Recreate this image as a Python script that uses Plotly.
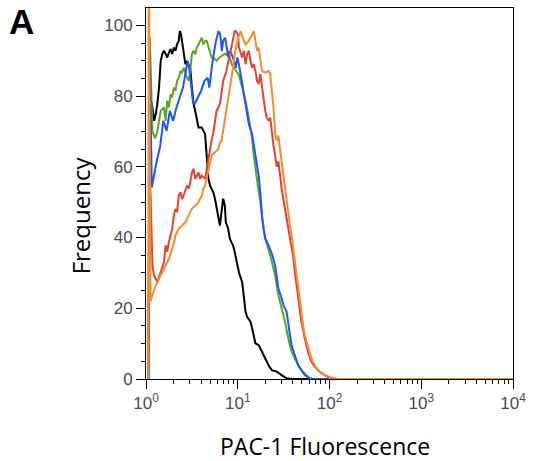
import plotly.graph_objects as go

# ---- data (fluorescence channel, frequency %) ----
black_x = [1.06, 1.10, 1.175, 1.225, 1.278, 1.329, 1.387, 1.446, 1.504, 1.569, 1.637, 1.703, 1.777, 1.852, 1.928, 2.010,
           2.097, 2.182, 2.275, 2.332, 2.408, 2.512, 2.575, 2.686, 2.794, 2.914, 3.040, 3.162, 3.298, 3.440, 3.579, 3.733,
           4.050, 4.225, 4.406, 4.585, 4.782, 4.987, 5.411, 5.644, 5.873, 6.124, 6.387, 6.646, 6.932, 7.229, 7.411, 7.845,
           8.183, 8.514, 8.879, 9.262, 9.636, 10.30, 11.18, 11.66, 12.16, 12.66, 13.76, 14.32, 14.94, 15.58, 16.90, 18.34,
           19.95, 21.65, 23.50, 26.60, 30.10, 34.07, 38.55, 10000]
black_y = [0, 80, 76.8, 73, 75, 77.8, 82.4, 89.9, 91.9, 92.8, 91.9, 90.9, 92.3, 93.3, 91.9, 93.7,
           92.8, 94.7, 95.6, 98.4, 97.5, 93.7, 91.9, 89, 89.9, 89, 87.7, 82.4, 77.8, 75.8, 73, 71.1,
           71.1, 70.2, 69.3, 63.2, 56.7, 54.7, 52.8, 51, 48.2, 45.4, 43.4, 47.2, 51, 49, 44.3, 42.6,
           39.8, 38.7, 37.8, 35.9, 33.5, 30.2, 27.4, 22.8, 19, 17.6, 16.2, 14.4, 12.4, 10.1, 9.6, 7.7,
           5.9, 3.9, 2.5, 2.1, 1.1, 0.2, 0, 0]

green_x = [1.06, 1.10, 1.175, 1.256, 1.329, 1.387, 1.446, 1.569, 1.637, 1.703, 1.777, 1.852, 1.928, 2.010, 2.097, 2.182,
           2.275, 2.373, 2.469, 2.575, 2.686, 2.794, 2.914, 3.040, 3.162, 3.298, 3.440, 3.579, 3.733, 3.894, 4.050, 4.225,
           4.406, 4.585, 4.782, 4.987, 5.188, 5.411, 5.873, 6.387, 7.284, 8.183, 8.598, 9.102, 10.30, 11.18, 12.16, 13.20,
           13.76, 14.32, 14.94, 15.58, 16.21, 16.90, 17.63, 18.34, 19.13, 19.95, 21.65, 22.58, 25.56, 27.73, 30.10, 32.74,
           35.53, 38.55, 43.63, 49.38, 55.88, 60.80, 66.0, 10000]
green_y = [0, 96.7, 70, 68, 70, 73, 75.8, 76.8, 73, 78.7, 76.8, 80.5, 79.6, 82.4, 81.5, 84.3,
           85.2, 87.1, 86.6, 88, 86.2, 85.2, 84.3, 87.1, 91.8, 92.8, 91.8, 93.7, 94.6, 95.6, 96.5, 94.6,
           95.6, 95.6, 94.2, 92.8, 90.9, 90.9, 90, 91, 92, 90.9, 89, 88, 86, 82.4, 78.7, 73.9,
           71, 68, 63.2, 59.5, 55.6, 53, 50, 46, 42.5, 39.7, 37, 35, 29.3, 23.7, 20, 16.2,
           11.5, 7.7, 4.9, 2.5, 1.1, 0.2, 0, 0]

blue_x = [1.06, 1.10, 1.157, 1.204, 1.310, 1.421, 1.543, 1.678, 1.820, 1.975, 2.149, 2.332, 2.530, 2.754, 2.864, 2.987,
          3.116, 3.241, 3.381, 3.669, 3.990, 4.331, 4.699, 4.902, 5.113, 5.318, 5.546, 5.786, 6.170, 6.435, 6.712, 6.932,
          7.284, 7.521, 7.903, 8.183, 8.598, 9.102, 9.493, 9.877, 10.30, 10.74, 11.18, 11.66, 12.16, 12.66, 13.20, 14.32,
          15.58, 16.21, 16.90, 17.63, 18.34, 19.13, 19.95, 21.65, 23.50, 25.56, 26.60, 27.73, 30.10, 31.39, 34.07, 35.53,
          37.06, 38.55, 41.94, 45.50, 49.38, 53.70, 60.80, 66.0, 10000]
blue_y = [0, 92.7, 54.2, 57, 61.7, 65.5, 73, 70.2, 75.8, 73, 76.8, 79.6, 82.4, 88, 89.9, 87.1,
          82.4, 78.7, 77.7, 79.6, 81.5, 84.3, 85.2, 82.4, 87.1, 89.9, 92.8, 95.6, 98.4, 97.5, 92.8, 95.6,
          96.5, 93.7, 90.9, 92.8, 91.8, 89.9, 88, 90.9, 89, 86.2, 83.4, 79.6, 76.8, 73.9, 72.1, 69.3,
          63.8, 61.3, 57.5, 52.6, 46.2, 42.5, 39.7, 37.8, 35.5, 32.1, 29.3, 25.6, 22.8, 20.9, 19, 15.2,
          12.4, 9.6, 6.8, 3.9, 2.5, 1.1, 0.2, 0, 0]

red_x = [1.06, 1.10, 1.175, 1.225, 1.329, 1.446, 1.569, 1.637, 1.703, 1.777, 1.928, 2.010, 2.097, 2.182, 2.275, 2.373,
         2.469, 2.575, 2.686, 2.794, 2.914, 3.040, 3.162, 3.298, 3.440, 3.579, 3.733, 3.894, 4.050, 4.406, 4.585, 4.987,
         5.188, 5.411, 5.644, 5.873, 6.387, 6.646, 6.932, 7.521, 7.845, 8.183, 8.514, 8.879, 9.262, 9.493, 10.05, 10.30,
         11.18, 11.66, 12.16, 12.66, 13.20, 13.76, 14.32, 14.94, 15.58, 16.21, 16.90, 17.63, 18.34, 19.13, 19.95, 20.76,
         21.65, 22.58, 23.50, 24.51, 25.56, 26.60, 27.73, 28.93, 30.10, 31.39, 32.74, 34.07, 35.53, 37.06, 38.55, 40.21,
         41.94, 43.63, 45.50, 47.46, 49.38, 53.70, 58.29, 63.25, 68.83, 77.88, 88.15, 99.75, 122.5, 10000]
red_y = [0, 60, 32.1, 29.3, 27.4, 30.2, 33, 37.8, 36, 38.7, 42.5, 46.2, 48.1, 47.2, 51.9, 52.8,
         50.9, 51.9, 53.8, 54.7, 53.8, 55.6, 58.4, 59.4, 56.6, 57.5, 58.4, 56.6, 57.5, 56.6, 59.4, 65,
         67.5, 69.5, 73, 75.8, 77.7, 80.5, 84.3, 87.1, 89.9, 91.8, 93.7, 96.5, 98.4, 98.4, 97.5, 93.7,
         90.9, 92.8, 89, 91.8, 92.8, 89.9, 88, 89, 87.1, 84.3, 83.4, 86.2, 82.4, 78.7, 75.8, 73.9,
         73, 73.9, 69.5, 66, 63.2, 60, 61.5, 56.6, 53.8, 50.9, 48.1, 44.3, 42.5, 39.7, 36.8, 34.5,
         30.2, 26.5, 22.8, 19, 16.2, 11.5, 7.7, 4.9, 3.5, 2.1, 1.1, 0.2, 0, 0]

orange_x = [1.06, 1.07, 1.12, 1.175, 1.225, 1.278, 1.329, 1.446, 1.569, 1.703, 1.777, 1.928, 2.010, 2.097, 2.182, 2.275,
            2.469, 2.686, 2.914, 3.162, 3.440, 3.733, 4.050, 4.225, 4.406, 4.585, 4.782, 4.987, 5.188, 5.644, 6.124, 6.387,
            6.646, 6.932, 7.229, 7.521, 7.845, 8.183, 8.514, 8.879, 9.262, 9.636, 10.05, 10.48, 10.74, 11.66, 12.16, 13.20,
            14.32, 14.94, 15.58, 16.21, 16.90, 17.63, 18.34, 19.95, 21.65, 22.58, 23.50, 24.51, 25.12, 25.56, 26.60, 27.73,
            28.93, 30.10, 31.39, 32.74, 34.07, 35.53, 37.06, 38.55, 40.21, 41.94, 43.63, 45.50, 47.46, 49.38, 51.50, 53.70,
            58.29, 63.25, 68.83, 74.67, 81.02, 91.71, 103.8, 122.5, 10000]
orange_y = [0, 130, 22, 23.7, 25.6, 26.5, 27.4, 29.3, 31.2, 32.6, 34, 36.8, 38.7, 40.6, 41.5, 42.5,
            43.4, 44.3, 46.2, 48.1, 49, 50, 51.9, 53.8, 54.7, 56.6, 59.4, 61.3, 63.2, 64.1, 65, 66.9,
            67.4, 70.2, 73, 75.8, 79.6, 82.4, 85.2, 88, 91.8, 94.6, 96.5, 97.5, 98.4, 95.6, 94.6, 95.6,
            97.5, 98.4, 95.6, 92.8, 93.7, 90.9, 87.1, 86.6, 87.1, 86.2, 82.4, 76.8, 73, 69.3, 67.4, 68.8,
            65, 61.3, 58.4, 54.7, 50.9, 47.2, 43.4, 40.6, 36.8, 34, 29.3, 25.6, 21.8, 18, 15.2, 12.4,
            8.7, 5.8, 3.9, 2.5, 1.6, 1.1, 0.4, 0, 0]

x_tickvals = [1, 10, 100, 1000, 10000]
x_ticktext = ["10<sup>0</sup>", "10<sup>1</sup>", "10<sup>2</sup>", "10<sup>3</sup>", "10<sup>4</sup>"]
y_tickvals = [0, 20, 40, 60, 80, 100]

series = [
    (black_x, black_y, "#000000"),
    (green_x, green_y, "#58a81c"),
    (blue_x, blue_y, "#1f55ff"),
    (red_x, red_y, "#e8412d"),
    (orange_x, orange_y, "#f48c30"),
]

fig = go.Figure()
for xs, ys, col in series:
    assert len(xs) == len(ys), (len(xs), len(ys), col)
    fig.add_trace(go.Scatter(x=xs, y=ys, mode="lines",
                             line=dict(color=col, width=2), showlegend=False,
                             hoverinfo="skip"))

minor_x = [m * 10 ** k for k in range(4) for m in range(2, 10)]
tick_font = dict(family="Liberation Sans, Arial, sans-serif", size=17, color="#4a4a4a")

fig.update_layout(
    width=533, height=461,
    margin=dict(l=146, r=15, t=7, b=82),
    paper_bgcolor="white", plot_bgcolor="white",
    showlegend=False,
    xaxis=dict(type="log", range=[0, 4], showline=True, linecolor="black", linewidth=1,
               mirror=True, ticks="outside", ticklen=9, tickcolor="black", tickwidth=1,
               tickvals=x_tickvals, ticktext=x_ticktext, tickfont=tick_font,
               minor=dict(tickvals=minor_x, ticks="outside", ticklen=4, tickcolor="black", tickwidth=1),
               showgrid=False, zeroline=False, layer="below traces"),
    yaxis=dict(range=[0, 104.9], showline=True, linecolor="black", linewidth=1,
               mirror=True, ticks="outside", ticklen=9, tickcolor="black", tickwidth=1,
               tickvals=y_tickvals, tickfont=tick_font,
               minor=dict(dtick=5, tick0=0, ticks="outside", ticklen=4, tickcolor="black", tickwidth=1),
               showgrid=False, zeroline=False, layer="below traces"),
    annotations=[
        dict(text="Frequency", x=-0.1774, y=0.4409, xref="paper", yref="paper",
             textangle=-90, showarrow=False, xanchor="center", yanchor="middle",
             font=dict(family="Open Sans, sans-serif", size=24, color="black")),
        dict(text="PAC-1 Fluorescence", x=0.4866, y=-0.180, xref="paper", yref="paper",
             showarrow=False, xanchor="center", yanchor="middle",
             font=dict(family="Open Sans, sans-serif", size=23, color="black")),
        dict(text="<b>A</b>", x=-0.3387, y=0.9637, xref="paper", yref="paper",
             showarrow=False, xanchor="center", yanchor="middle",
             font=dict(family="Liberation Sans, Arial, sans-serif", size=35, color="black")),
    ],
)

fig.write_html("out.html")
